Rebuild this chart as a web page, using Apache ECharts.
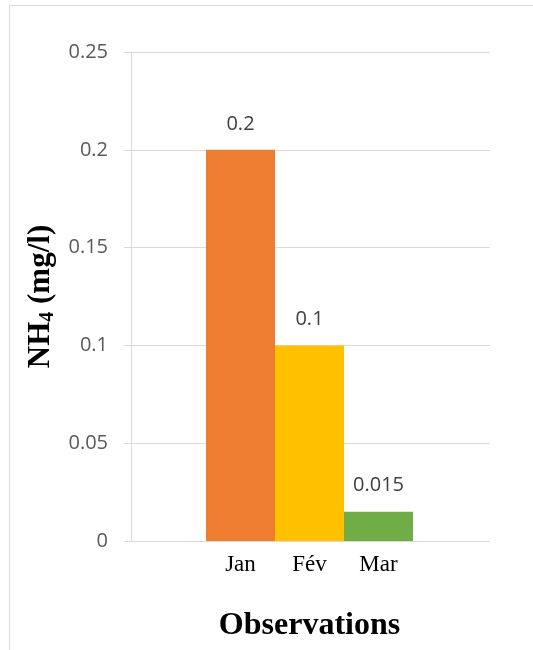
<!DOCTYPE html>
<html>
<head>
<meta charset="utf-8">
<script src="https://cdn.jsdelivr.net/npm/echarts@6/dist/echarts.min.js"></script>
<style>
  html, body { margin: 0; padding: 0; background: #fff; }
  #chart { width: 533px; height: 650px; }
</style>
</head>
<body>
<div id="chart"></div>
<script>
// data
var months = ['Jan', 'Fév', 'Mar'];
var nh4Values = [0.2, 0.1, 0.015];
var yTicks = [0, 0.05, 0.1, 0.15, 0.2, 0.25];

var barColors = ['#ED7D31', '#FFC000', '#70AD47'];
var lineColor = '#d9d9d9';
var sansFont = '"Open Sans", sans-serif';
var serifFont = '"Liberation Serif", "Times New Roman", serif';

var myChart = echarts.init(document.getElementById('chart'));

var plotTop = 52;
var plotBottom = 109;

var option = {
  animation: false,
  backgroundColor: '#fff',
  graphic: [{
    type: 'rect',
    shape: { x: 9.5, y: 5.5, width: 700, height: 800 },
    style: { fill: 'none', stroke: lineColor, lineWidth: 1 },
    silent: true
  }],
  grid: [
    // full-width grid for the gridlines and value axis
    { left: 131, right: 43, top: plotTop, bottom: plotBottom },
    // narrow grid holding the three touching bars
    { left: 206, width: 207, top: plotTop, bottom: plotBottom }
  ],
  xAxis: [
    { gridIndex: 0, type: 'value', show: false, min: 0, max: 1 },
    {
      gridIndex: 1,
      type: 'category',
      data: months,
      axisLine: { show: false },
      axisTick: { show: false },
      axisLabel: {
        margin: 12,
        color: '#000',
        fontFamily: serifFont,
        fontSize: 23
      },
      name: 'Observations',
      nameLocation: 'middle',
      nameGap: 69,
      nameTextStyle: {
        color: '#000',
        fontFamily: serifFont,
        fontWeight: 'bold',
        fontSize: 32
      }
    }
  ],
  yAxis: [
    {
      gridIndex: 0,
      type: 'value',
      min: yTicks[0],
      max: yTicks[yTicks.length - 1],
      interval: 0.05,
      axisLine: { show: true, lineStyle: { color: lineColor, width: 1 } },
      axisTick: { show: true, length: 7, lineStyle: { color: lineColor, width: 1 } },
      splitLine: { show: true, lineStyle: { color: lineColor, width: 1 } },
      axisLabel: {
        margin: 23,
        color: '#595959',
        fontFamily: sansFont,
        fontSize: 20,
        formatter: function (v) { return String(+v.toFixed(3)); }
      },
      name: '{b|NH}{s|4}{b| (mg/l)}',
      nameLocation: 'middle',
      nameGap: 71,
      nameRotate: 90,
      nameTextStyle: {
        rich: {
          b: { color: '#000', fontFamily: serifFont, fontWeight: 'bold', fontSize: 31, lineHeight: 34 },
          s: { color: '#000', fontFamily: serifFont, fontWeight: 'bold', fontSize: 20, verticalAlign: 'bottom', lineHeight: 20 }
        }
      }
    },
    {
      gridIndex: 1,
      type: 'value',
      show: false,
      min: yTicks[0],
      max: yTicks[yTicks.length - 1]
    }
  ],
  series: [{
    type: 'bar',
    xAxisIndex: 1,
    yAxisIndex: 1,
    barCategoryGap: 0,
    data: nh4Values.map(function (v, i) {
      return { value: v, itemStyle: { color: barColors[i] } };
    }),
    label: {
      show: true,
      position: 'top',
      distance: 16,
      color: '#404040',
      fontFamily: sansFont,
      fontSize: 20
    }
  }]
};

myChart.setOption(option);
window.addEventListener('resize', function () { myChart.resize(); });
</script>
</body>
</html>
